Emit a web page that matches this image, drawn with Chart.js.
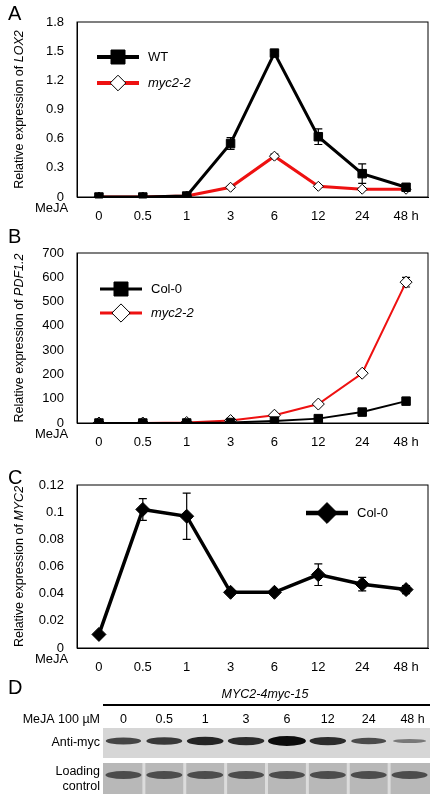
<!DOCTYPE html>
<html>
<head>
<meta charset="utf-8">
<script src="https://cdn.jsdelivr.net/npm/chart.js@4.4.1/dist/chart.umd.min.js"></script>
<style>
  body { margin: 0; background: #fff; width: 436px; height: 800px; position: relative; overflow: hidden; font-family: Arial, "Liberation Sans", sans-serif; }
  .box { position: absolute; left: 0; width: 436px; }
</style>
</head>
<body>
<div class="box" style="top:0;height:220px"><canvas id="chartA"></canvas></div>
<div class="box" style="top:220px;height:226px"><canvas id="chartB"></canvas></div>
<div class="box" style="top:460px;height:211px"><canvas id="chartC"></canvas></div>
<canvas id="blot" width="436" height="120" style="position:absolute;left:0;top:680px"></canvas>
<script>
const horas = ['0', '0.5', '1', '3', '6', '12', '24', '48 h'];

const lox2WT = [0, 0, 0.01, 0.55, 1.48, 0.62, 0.24, 0.1];
const lox2WTErr = [0.01, 0.01, 0.01, 0.06, 0.02, 0.08, 0.1, 0.02];
const lox2Myc = [0, 0, 0.01, 0.1, 0.42, 0.11, 0.08, 0.08];
const lox2MycErr = [0, 0, 0, 0.01, 0.02, 0.01, 0.01, 0.01];

const pdfCol = [0, 0, 0, 2, 8, 18, 45, 90];
const pdfColErr = [0, 0, 0, 0, 1, 2, 3, 4];
const pdfMyc = [0, 0, 2, 10, 32, 78, 205, 580];
const pdfMycErr = [0, 0, 0, 1, 2, 4, 6, 20];

const myc2Col = [0.01, 0.102, 0.097, 0.041, 0.041, 0.054, 0.047, 0.043];
const myc2ColErr = [0.001, 0.008, 0.017, 0.001, 0.001, 0.008, 0.005, 0.003];

const lanes = ['0', '0.5', '1', '3', '6', '12', '24', '48 h'];
const antiMyc = [0.55, 0.65, 0.8, 0.75, 1.0, 0.75, 0.5, 0.15];

const fuente = 'Arial, "Liberation Sans", sans-serif';

function panelPlugin(cfg) {
    return {
        id: 'panel',
        beforeDatasetsDraw(chart) {
            const c = chart.ctx;
            c.save();
            c.strokeStyle = '#000';
            c.lineWidth = 1.2;
            chart.data.datasets.forEach((ds, i) => {
                const meta = chart.getDatasetMeta(i);
                meta.data.forEach((pt, j) => {
                    const e = ds.err[j];
                    if (!e) return;
                    const y1 = chart.scales.y.getPixelForValue(ds.data[j] + e);
                    const y2 = chart.scales.y.getPixelForValue(ds.data[j] - e);
                    c.beginPath();
                    c.moveTo(pt.x, y1); c.lineTo(pt.x, y2);
                    c.moveTo(pt.x - 4, y1); c.lineTo(pt.x + 4, y1);
                    c.moveTo(pt.x - 4, y2); c.lineTo(pt.x + 4, y2);
                    c.stroke();
                });
            });
            c.restore();
        },
        afterDraw(chart) {
            const c = chart.ctx;
            const a = chart.chartArea;
            c.save();
            c.strokeStyle = '#000';
            c.lineWidth = 1;
            c.strokeRect(a.left, a.top, a.right - a.left, a.bottom - a.top);
            c.fillStyle = '#000';
            c.font = '20px ' + fuente;
            c.textBaseline = 'middle';
            c.fillText(cfg.letra, 8, cfg.letraY);
            c.font = '13px ' + fuente;
            c.textBaseline = 'top';
            c.fillText('MeJA', 35, a.bottom + 5);
            c.textBaseline = 'middle';
            // titulo del eje y con el gen en cursiva
            c.translate(20, (a.top + a.bottom) / 2);
            c.rotate(-Math.PI / 2);
            const t1 = 'Relative expression of ';
            c.font = '12.5px ' + fuente;
            const w1 = c.measureText(t1).width;
            c.font = 'italic 12.5px ' + fuente;
            const w2 = c.measureText(cfg.gen).width;
            let x = -(w1 + w2) / 2;
            c.font = '12.5px ' + fuente;
            c.fillText(t1, x, 0);
            c.font = 'italic 12.5px ' + fuente;
            c.fillText(cfg.gen, x + w1, 0);
            c.restore();
            // leyenda
            c.save();
            chart.data.datasets.forEach((ds, i) => {
                const y = cfg.legY + i * cfg.legGap;
                const x0 = cfg.legX;
                c.strokeStyle = ds.borderColor;
                c.lineWidth = ds.borderWidth + 1;
                c.beginPath(); c.moveTo(x0, y); c.lineTo(x0 + 42, y); c.stroke();
                const r = ds.pointRadius + 1;
                c.fillStyle = ds.pointBackgroundColor;
                c.strokeStyle = '#000';
                c.lineWidth = 1;
                c.beginPath();
                if (ds.pointStyle === 'rect') {
                    c.rect(x0 + 21 - r, y - r, 2 * r, 2 * r);
                } else {
                    c.moveTo(x0 + 21, y - r * 1.3); c.lineTo(x0 + 21 + r * 1.3, y);
                    c.lineTo(x0 + 21, y + r * 1.3); c.lineTo(x0 + 21 - r * 1.3, y); c.closePath();
                }
                c.fill(); c.stroke();
                c.fillStyle = '#000';
                c.font = (ds.cursiva ? 'italic ' : '') + '13px ' + fuente;
                c.textBaseline = 'middle';
                c.fillText(ds.label, x0 + 51, y);
            });
            c.restore();
        }
    };
}

function serie(label, data, err, color, estilo, relleno, grosor, radio, cursiva) {
    return {
        label, data, err, cursiva,
        borderColor: color, borderWidth: grosor,
        pointStyle: estilo, pointRadius: radio, pointHoverRadius: radio,
        pointBackgroundColor: relleno, pointBorderColor: '#000', pointBorderWidth: 1,
        tension: 0
    };
}

function crear(id, datasets, yMax, paso, decimales, padTop, cfg) {
    new Chart(document.getElementById(id), {
        type: 'line',
        data: { labels: horas, datasets },
        options: {
            responsive: true,
            maintainAspectRatio: false,
            animation: false,
            layout: { padding: { top: padTop, right: 8, left: 0, bottom: 0 } },
            plugins: { legend: { display: false }, tooltip: { enabled: false } },
            scales: {
                x: {
                    offset: true,
                    grid: { display: false },
                    border: { color: '#000' },
                    ticks: { color: '#000', font: { size: 13, family: fuente }, maxRotation: 0, autoSkip: false, padding: 4 },
                    afterFit: s => { s.height = 23; }
                },
                y: {
                    min: 0, max: yMax,
                    grid: { display: false },
                    border: { color: '#000' },
                    ticks: {
                        stepSize: paso, color: '#000', font: { size: 13, family: fuente }, padding: 5,
                        callback: v => decimales ? (v === 0 ? '0' : +v.toFixed(decimales) + '') : v
                    },
                    afterFit: s => { s.width = 77; }
                }
            }
        },
        plugins: [panelPlugin(cfg)]
    });
}

crear('chartA', [
    serie('WT', lox2WT, lox2WTErr, '#000', 'rect', '#000', 3, 6, false),
    serie('myc2-2', lox2Myc, lox2MycErr, '#ee1111', 'rectRot', '#fff', 3, 5, true)
], 1.8, 0.3, 1, 22, { letra: 'A', letraY: 14, gen: 'LOX2', legX: 97, legY: 57, legGap: 26 });

crear('chartB', [
    serie('Col-0', pdfCol, pdfColErr, '#000', 'rect', '#000', 2, 6, false),
    serie('myc2-2', pdfMyc, pdfMycErr, '#ee1111', 'rectRot', '#fff', 2, 6, true)
], 700, 100, 0, 33, { letra: 'B', letraY: 17, gen: 'PDF1.2', legX: 100, legY: 69, legGap: 24 });

crear('chartC', [
    serie('Col-0', myc2Col, myc2ColErr, '#000', 'rectRot', '#000', 3.5, 7, false)
], 0.12, 0.02, 2, 25, { letra: 'C', letraY: 18, gen: 'MYC2', legX: 306, legY: 53, legGap: 24 });

// panel D: western blot
const b = document.getElementById('blot').getContext('2d');
const x0 = 103, x1 = 430;
const paso = (x1 - x0) / lanes.length;
b.fillStyle = '#000';
b.font = '20px ' + fuente;
b.textBaseline = 'middle';
b.fillText('D', 8, 8);
b.font = 'italic 12.5px ' + fuente;
b.textAlign = 'center';
b.fillText('MYC2-4myc-15', 265, 15);
b.fillRect(x0, 24, x1 - x0, 2);
b.font = '12.5px ' + fuente;
b.textAlign = 'right';
b.fillText('MeJA 100 µM', 100, 40);
b.fillText('Anti-myc', 100, 63);
b.fillText('Loading', 100, 92);
b.fillText('control', 100, 107);
b.textAlign = 'center';
lanes.forEach((l, i) => b.fillText(l, x0 + paso * (i + 0.5) + (i === 7 ? 3 : 0), 40));
b.fillStyle = '#d6d6d6';
b.fillRect(x0, 48, x1 - x0, 30);
b.fillStyle = '#b8b8b8';
b.fillRect(x0, 83, x1 - x0, 31);
antiMyc.forEach((v, i) => {
    const cx = x0 + paso * (i + 0.5);
    const h = 3 + v * 7;
    b.fillStyle = 'rgba(0,0,0,' + (0.35 + v * 0.6) + ')';
    b.beginPath();
    b.ellipse(cx, 61, 16 + v * 3, h / 2, 0, 0, Math.PI * 2);
    b.fill();
    b.fillStyle = 'rgba(40,40,40,0.75)';
    b.beginPath();
    b.ellipse(cx, 95, 18, 4, 0, 0, Math.PI * 2);
    b.fill();
    b.fillStyle = 'rgba(255,255,255,0.5)';
    if (i > 0) b.fillRect(x0 + paso * i - 1.5, 83, 3, 31);
});
</script>
</body>
</html>
